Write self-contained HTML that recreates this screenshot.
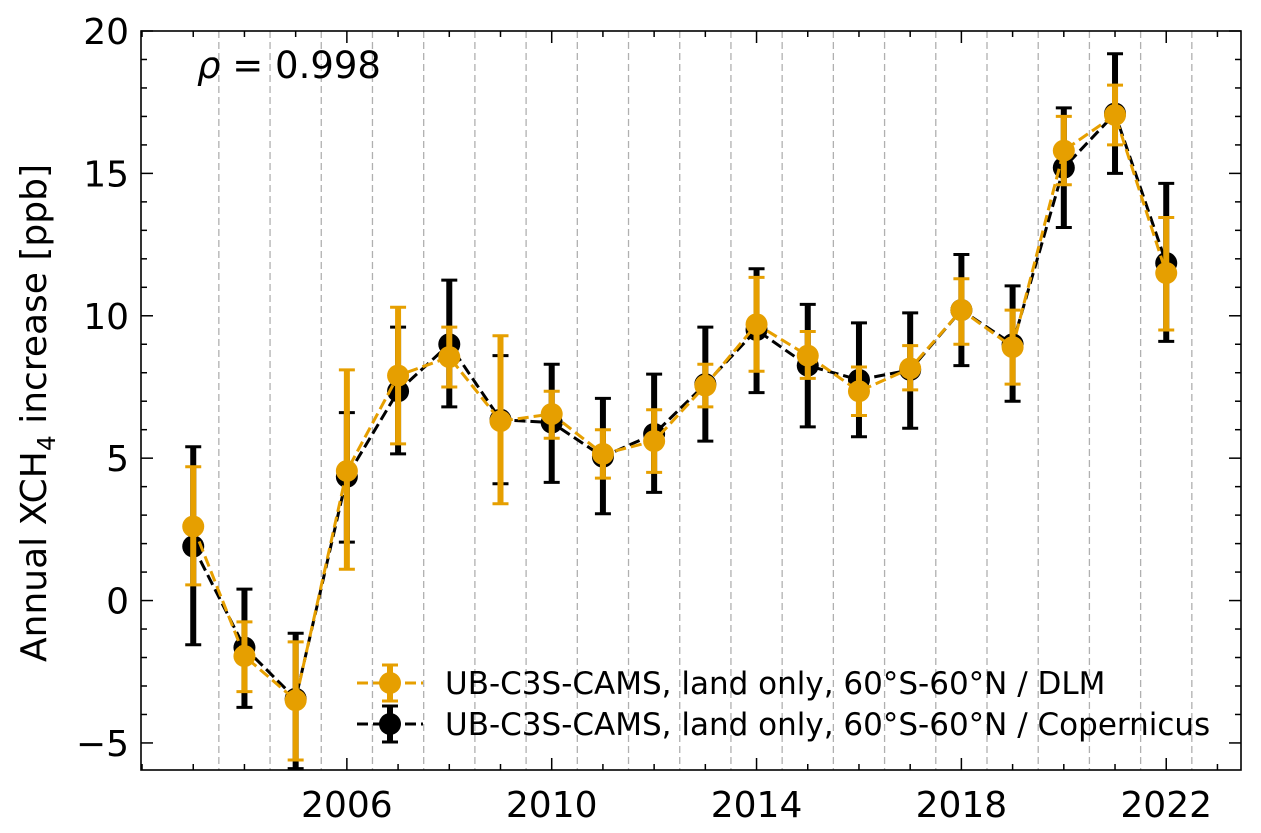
<!DOCTYPE html>
<html><head><meta charset="utf-8"><style>
body{margin:0;background:#fff;}
svg{display:block;font-family:"DejaVu Sans","Liberation Sans",sans-serif;}
</style></head><body>
<svg id="chart" width="1261" height="833"></svg>
<script>
const years=[2003,2004,2005,2006,2007,2008,2009,2010,2011,2012,2013,2014,2015,2016,2017,2018,2019,2020,2021,2022];
const dlmVal=[2.6,-1.95,-3.5,4.55,7.9,8.55,6.3,6.55,5.15,5.6,7.55,9.7,8.6,7.35,8.15,10.2,8.9,15.8,17.05,11.5];
const dlmLo=[0.55,-3.2,-5.6,1.1,5.5,7.5,3.4,5.7,4.3,4.5,6.8,8.05,7.8,6.5,7.4,9.0,7.6,14.6,16.0,9.5];
const dlmHi=[4.7,-0.75,-1.45,8.1,10.3,9.6,9.3,7.35,6.0,6.7,8.3,11.35,9.45,8.2,8.95,11.3,10.2,17.0,18.1,13.45];
const copVal=[1.9,-1.65,-3.45,4.35,7.35,9.0,6.35,6.25,5.05,5.85,7.6,9.5,8.25,7.75,8.1,10.2,9.0,15.2,17.1,11.85];
const copLo=[-1.55,-3.75,-5.9,2.05,5.15,6.8,4.1,4.15,3.05,3.8,5.6,7.3,6.1,5.75,6.05,8.25,7.0,13.1,15.0,9.1];
const copHi=[5.4,0.4,-1.15,6.6,9.6,11.25,8.6,8.3,7.1,7.95,9.6,11.65,10.4,9.75,10.1,12.15,11.05,17.3,19.2,14.65];
const xTicks=[2006,2010,2014,2018,2022];
const yTicks=[-5,0,5,10,15,20];

const L=141,R=1241,T=31,B=770;
const xMin=2001.98,xMax=2023.46,yMin=-5.95,yMax=20;
const X=v=>L+(v-xMin)/(xMax-xMin)*(R-L);
const Y=v=>B-(v-yMin)/(yMax-yMin)*(B-T);
const svg=document.getElementById('chart');
const NS='http://www.w3.org/2000/svg';
function mk(tag,attrs,parent){const e=document.createElementNS(NS,tag);for(const k in attrs)e.setAttribute(k,attrs[k]);(parent||svg).appendChild(e);return e;}

for(let y=2003.5;y<=2022.5;y++){
  const g=mk('line',{x1:X(y),x2:X(y),y1:T,y2:B,stroke:'#b0b0b0','stroke-width':1.3,'stroke-dasharray':'7,4'});
  
  
}
for(let y=2002;y<=2023;y++){
  const maj=xTicks.includes(y);const len=maj?12:6;
  mk('line',{x1:X(y),x2:X(y),y1:B,y2:B-len,stroke:'#000','stroke-width':1.5});
  mk('line',{x1:X(y),x2:X(y),y1:T,y2:T+len,stroke:'#000','stroke-width':1.5});
}
for(let v=-5;v<=20;v++){
  const maj=v%5===0;const len=maj?12:6;
  mk('line',{x1:L,x2:L+len,y1:Y(v),y2:Y(v),stroke:'#000','stroke-width':1.5});
  mk('line',{x1:R,x2:R-len,y1:Y(v),y2:Y(v),stroke:'#000','stroke-width':1.5});
}
xTicks.forEach(t=>{const e=mk('text',{x:X(t),y:B+47,'font-size':36,'text-anchor':'middle'});e.textContent=t;
  });
yTicks.forEach(t=>{const e=mk('text',{x:L-12,y:Y(t)+13,'font-size':36,'text-anchor':'end'});e.textContent=t<0?'\u2212'+(-t):t;
  });

function series(vals,lo,hi,color,name){
  const g=mk('g',{});
  
  
  years.forEach((yr,i)=>{
    const x=X(yr);
    mk('line',{x1:x,x2:x,y1:Y(lo[i]),y2:Y(hi[i]),stroke:color,'stroke-width':6},g);
    mk('line',{x1:x-8,x2:x+8,y1:Y(lo[i]),y2:Y(lo[i]),stroke:color,'stroke-width':3},g);
    mk('line',{x1:x-8,x2:x+8,y1:Y(hi[i]),y2:Y(hi[i]),stroke:color,'stroke-width':3},g);
  });
  mk('polyline',{points:years.map((yr,i)=>X(yr)+','+Y(vals[i])).join(' '),fill:'none',stroke:color,'stroke-width':3,'stroke-dasharray':'11,5'},g);
  years.forEach((yr,i)=>{mk('circle',{cx:X(yr),cy:Y(vals[i]),r:11,fill:color},g);});
}
series(copVal,copLo,copHi,'#000','series-copernicus');
series(dlmVal,dlmLo,dlmHi,'#E69F00','series-dlm');

mk('rect',{x:L,y:T,width:R-L,height:B-T,fill:'none',stroke:'#000','stroke-width':1.6});

const rho=mk('text',{x:197,y:78,'font-size':37});
rho.innerHTML='<tspan font-style="italic">ρ</tspan> = 0.998';


const yl=mk('text',{x:0,y:0,'font-size':36,'text-anchor':'middle',transform:'translate(46,413) rotate(-90)'});
yl.innerHTML='Annual XCH<tspan font-size="25" dy="9">4</tspan><tspan dy="-9"> increase [ppb]</tspan>';


function legend(y,color,label,name){
  const g=mk('g',{});
  
  
  mk('line',{x1:357,x2:423,y1:y,y2:y,stroke:color,'stroke-width':3,'stroke-dasharray':'11,5'},g);
  mk('line',{x1:390,x2:390,y1:y-18,y2:y+18,stroke:color,'stroke-width':6},g);
  mk('line',{x1:382,x2:398,y1:y-18,y2:y-18,stroke:color,'stroke-width':3},g);
  mk('line',{x1:382,x2:398,y1:y+18,y2:y+18,stroke:color,'stroke-width':3},g);
  mk('circle',{cx:390,cy:y,r:11,fill:color},g);
  const t=mk('text',{x:445,y:y+11,'font-size':31},g);t.textContent=label;
}
legend(683,'#E69F00','UB-C3S-CAMS, land only, 60°S-60°N / DLM','legend-entry-dlm');
legend(724,'#000','UB-C3S-CAMS, land only, 60°S-60°N / Copernicus','legend-entry-copernicus');
</script>
</body></html>
